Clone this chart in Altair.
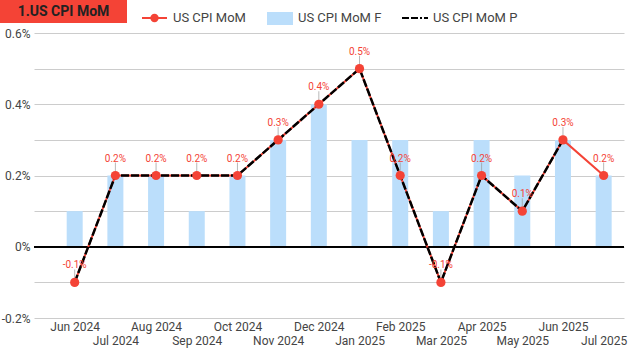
import json
import altair as alt
import pandas as pd

months = ["Jun 2024", "Jul 2024", "Aug 2024", "Sep 2024", "Oct 2024", "Nov 2024", "Dec 2024",
          "Jan 2025", "Feb 2025", "Mar 2025", "Apr 2025", "May 2025", "Jun 2025", "Jul 2025"]
cpi_mom = [-0.1, 0.2, 0.2, 0.2, 0.2, 0.3, 0.4, 0.5, 0.2, -0.1, 0.2, 0.1, 0.3, 0.2]
cpi_mom_f = [0.1, 0.2, 0.2, 0.1, 0.2, 0.3, 0.4, 0.3, 0.3, 0.1, 0.3, 0.2, 0.3, 0.2]
cpi_mom_p = [-0.1, 0.2, 0.2, 0.2, 0.2, 0.3, 0.4, 0.5, 0.2, -0.1, 0.2, 0.1, 0.3, None]
y_tick_values = [-0.2, -0.1, 0, 0.1, 0.2, 0.3, 0.4, 0.5, 0.6]
y_tick_labels = ["-0.2%", "", "0%", "", "0.2%", "", "0.4%", "", "0.6%"]

RED = "#F44336"
BLUE = "#BBDEFB"
FONT = "Roboto"
TXT = "#444444"

df = pd.DataFrame({
    "idx": list(range(len(months))),
    "month": months,
    "actual": cpi_mom,
    "forecast": cpi_mom_f,
    "prior": cpi_mom_p,
})
df["label"] = [f"{v:.1f}%" for v in cpi_mom]

months_js = json.dumps(months)
ylab_js = json.dumps(y_tick_labels)
yvals_js = json.dumps(y_tick_values)

xscale = alt.Scale(domain=[-1.0, 13.5], nice=False, zero=False, padding=0)
yscale = alt.Scale(domain=[-0.2, 0.6], nice=False, zero=False, padding=0)

y_axis = alt.Axis(values=y_tick_values, title=None, domain=False, ticks=False,
                  labelExpr=f"{ylab_js}[indexof({yvals_js}, datum.value)]",
                  gridColor="#cccccc", labelPadding=4, labelFontSize=12)

def x_axis(vals, pad):
    return alt.Axis(values=vals, title=None, grid=False, domain=False, ticks=False,
                    labelExpr=f"{months_js}[datum.value]", labelPadding=pad,
                    labelOverlap=False, labelFontSize=12, orient="bottom",
                    labelFlush=False)

base = alt.Chart(df)

bars = base.mark_bar(size=16, color=BLUE).encode(
    x=alt.X("idx:Q", scale=xscale, axis=x_axis(list(range(0, 14, 2)), 3)),
    y=alt.Y("forecast:Q", scale=yscale, axis=y_axis),
)

zero = base.mark_rule(color="black", strokeWidth=1).encode(
    y=alt.Y(datum=0, scale=yscale, axis=y_axis),
)

red_line = base.mark_line(color=RED, strokeWidth=2).encode(
    x=alt.X("idx:Q", scale=xscale, axis=x_axis(list(range(1, 14, 2)), 17)),
    y=alt.Y("actual:Q", scale=yscale, axis=y_axis),
)

black_line = base.mark_line(color="black", strokeWidth=2.5, strokeDash=[8, 2]).encode(
    x=alt.X("idx:Q", scale=xscale, axis=None),
    y=alt.Y("prior:Q", scale=yscale, axis=y_axis),
)

leaders = base.mark_tick(orient="vertical", color="#999999", size=10, thickness=1, yOffset=-8).encode(
    x=alt.X("idx:Q", scale=xscale, axis=None),
    y=alt.Y("actual:Q", scale=yscale, axis=y_axis),
)

points = base.mark_circle(color=RED, size=85, opacity=1).encode(
    x=alt.X("idx:Q", scale=xscale, axis=None),
    y=alt.Y("actual:Q", scale=yscale, axis=y_axis),
)

labels = base.mark_text(color=RED, fontSize=10, font=FONT, dy=-17, baseline="middle").encode(
    x=alt.X("idx:Q", scale=xscale, axis=None),
    y=alt.Y("actual:Q", scale=yscale, axis=y_axis),
    text="label:N",
)

one = alt.Chart(pd.DataFrame({"a": [0]}))

title_box = one.mark_rect(color=RED).encode(
    x=alt.value(-34), x2=alt.value(93), y=alt.value(-33), y2=alt.value(-10))
title_txt = one.mark_text(text="1.US CPI MoM", font=FONT, fontSize=14, fontWeight="bold",
                          color="#222222", align="center", baseline="middle").encode(
    x=alt.value(29.5), y=alt.value(-21.5))

leg_line = one.mark_rule(color=RED, strokeWidth=2).encode(
    x=alt.value(108), x2=alt.value(133), y=alt.value(-15))
leg_dot = one.mark_circle(color=RED, size=70, opacity=1).encode(
    x=alt.value(120.5), y=alt.value(-15))
leg_t1 = one.mark_text(text="US CPI MoM", font=FONT, fontSize=13, color=TXT,
                       align="left", baseline="middle").encode(x=alt.value(139), y=alt.value(-15))
leg_rect = one.mark_rect(color=BLUE).encode(
    x=alt.value(233), x2=alt.value(259), y=alt.value(-21), y2=alt.value(-8))
leg_t2 = one.mark_text(text="US CPI MoM F", font=FONT, fontSize=13, color=TXT,
                       align="left", baseline="middle").encode(x=alt.value(264), y=alt.value(-15))
leg_dash = one.mark_rule(color="black", strokeWidth=2, strokeDash=[7, 2, 7, 2, 2, 2]).encode(
    x=alt.value(368), x2=alt.value(394), y=alt.value(-15))
leg_t3 = one.mark_text(text="US CPI MoM P", font=FONT, fontSize=13, color=TXT,
                       align="left", baseline="middle").encode(x=alt.value(399), y=alt.value(-15))

chart = alt.layer(
    bars, zero, red_line, black_line, leaders, points, labels,
    title_box, title_txt, leg_line, leg_dot, leg_t1, leg_rect, leg_t2, leg_dash, leg_t3,
).resolve_axis(x="independent").properties(
    width=590, height=285,
    padding={"left": 34, "top": 33, "right": 17, "bottom": 32},
    autosize=alt.AutoSizeParams(type="none"),
    background="white",
).configure_view(stroke=None).configure_axis(
    labelFont=FONT, labelColor=TXT,
)

chart.save("out.html", embed_options={"renderer": "svg", "actions": False})
